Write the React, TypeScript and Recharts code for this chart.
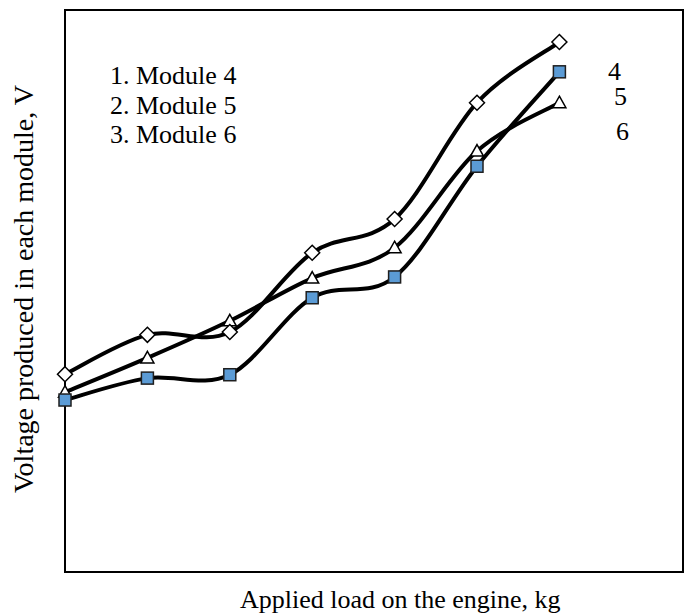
import React from 'react';
import { LineChart, Line, XAxis, YAxis, ReferenceArea } from 'recharts';

const loads = [0, 1, 2, 3, 4, 5, 6];
const module4 = [3.52, 4.22, 4.27, 5.68, 6.28, 8.35, 9.43];
const module5 = [3.06, 3.45, 3.51, 4.88, 5.25, 7.22, 8.9];
const module6 = [3.2, 3.81, 4.47, 5.23, 5.77, 7.49, 8.35];

const legendLines = ['1. Module 4', '2. Module 5', '3. Module 6'];
const endLabels = ['4', '5', '6'];

const data = loads.map((load, i) => ({
  load,
  m4: module4[i],
  m5: module5[i],
  m6: module6[i],
}));

const FONT = '"Liberation Serif", "Times New Roman", serif';

// smoothed line like the spreadsheet one (catmull-rom style bezier)
const smoothCurve = (context: any) => {
  let pts: number[][] = [];
  return {
    areaStart() {},
    areaEnd() {},
    lineStart() {
      pts = [];
    },
    point(x: number, y: number) {
      pts.push([+x, +y]);
    },
    lineEnd() {
      const n = pts.length;
      if (!n) return;
      context.moveTo(pts[0][0], pts[0][1]);
      const t = 1 / 6;
      for (let i = 0; i < n - 1; i++) {
        const p0 = pts[Math.max(i - 1, 0)];
        const p1 = pts[i];
        const p2 = pts[i + 1];
        const p3 = pts[Math.min(i + 2, n - 1)];
        context.bezierCurveTo(
          p1[0] + (p2[0] - p0[0]) * t,
          p1[1] + (p2[1] - p0[1]) * t,
          p2[0] - (p3[0] - p1[0]) * t,
          p2[1] - (p3[1] - p1[1]) * t,
          p2[0],
          p2[1]
        );
      }
    },
  };
};

const DiamondDot = (props: any) => {
  const { cx, cy, index } = props;
  return (
    <path
      key={`d${index}`}
      d={`M${cx},${cy - 7.5} L${cx + 7.5},${cy} L${cx},${cy + 7.5} L${cx - 7.5},${cy} Z`}
      fill="#fff"
      stroke="#000"
      strokeWidth={1.5}
    />
  );
};

const SquareDot = (props: any) => {
  const { cx, cy, index } = props;
  return (
    <rect
      key={`s${index}`}
      x={cx - 6}
      y={cy - 6}
      width={12}
      height={12}
      fill="#5b9bd5"
      stroke="#1f1f1f"
      strokeWidth={1.5}
    />
  );
};

const TriangleDot = (props: any) => {
  const { cx, cy, index } = props;
  return (
    <path
      key={`t${index}`}
      d={`M${cx},${cy - 6.5} L${cx + 6.5},${cy + 5} L${cx - 6.5},${cy + 5} Z`}
      fill="#fff"
      stroke="#000"
      strokeWidth={1.5}
    />
  );
};

export default function App() {
  return (
    <div style={{ position: 'relative', width: 688, height: 615, background: '#fff' }}>
      <style>{`body { margin: 0; }`}</style>
      <LineChart width={688} height={615} data={data} margin={{ top: 10, right: 5, bottom: 43, left: 65 }}>
        <XAxis type="number" dataKey="load" domain={[0, 7.5]} hide />
        <YAxis type="number" domain={[0, 10]} hide />
        <ReferenceArea x1={0} x2={7.5} y1={0} y2={10} fill="none" stroke="#000" strokeWidth={2} fillOpacity={0} />
        <Line
          type={smoothCurve as any}
          dataKey="m6"
          stroke="#000"
          strokeWidth={4}
          dot={TriangleDot}
          isAnimationActive={false}
        />
        <Line
          type={smoothCurve as any}
          dataKey="m4"
          stroke="#000"
          strokeWidth={4}
          dot={DiamondDot}
          isAnimationActive={false}
        />
        <Line
          type={smoothCurve as any}
          dataKey="m5"
          stroke="#000"
          strokeWidth={4}
          dot={SquareDot}
          isAnimationActive={false}
        />
      </LineChart>
      <svg
        width={688}
        height={615}
        style={{ position: 'absolute', left: 0, top: 0, pointerEvents: 'none' }}
        fontFamily={FONT}
        fontSize={26}
        fill="#000"
      >
        {legendLines.map((t, i) => (
          <text key={t} x={110} y={84 + i * 29.5}>
            {t}
          </text>
        ))}
        <text x={608} y={80}>{endLabels[0]}</text>
        <text x={614} y={105}>{endLabels[1]}</text>
        <text x={616} y={140}>{endLabels[2]}</text>
        <text x={240} y={608}>Applied load on the engine, kg</text>
        <text transform="translate(33,493) rotate(-90)" fontSize={28}>
          Voltage produced in each module, V
        </text>
      </svg>
    </div>
  );
}
